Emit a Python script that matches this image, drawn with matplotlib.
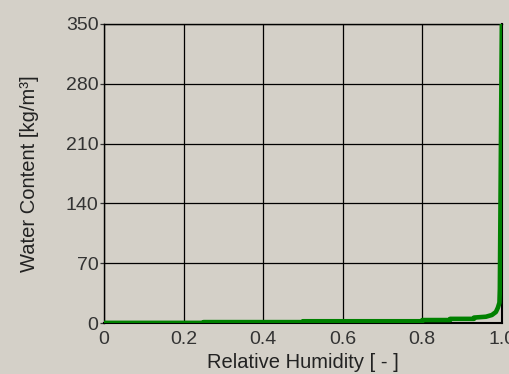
import matplotlib
matplotlib.use("Agg")
import matplotlib.pyplot as plt

rh = [0.0, 0.25, 0.25, 0.5, 0.5, 0.8, 0.8, 0.87, 0.87, 0.93, 0.93, 0.96, 0.975, 0.985, 0.99, 0.994, 0.995, 1.0]
wc = [0.3, 0.3, 1.2, 1.2, 2.2, 2.2, 3.6, 3.6, 5.0, 5.0, 6.5, 7.5, 9.5, 13.0, 18.0, 24.0, 40.0, 350.0]

xticks = [0, 0.2, 0.4, 0.6, 0.8, 1.0]
xticklabels = ["0", "0.2", "0.4", "0.6", "0.8", "1.0"]
yticks = [0, 70, 140, 210, 280, 350]
yticklabels = ["0", "70", "140", "210", "280", "350"]

bg = "#d4d0c8"
plt.rcParams['font.family'] = ['Liberation Sans', 'DejaVu Sans']

fig = plt.figure(figsize=(5.10, 3.74), dpi=100, facecolor=bg)
ax = fig.add_axes([0.204, 0.136, 0.780, 0.800], facecolor=bg)
ax.plot(rh, wc, color="#008000", lw=3.3, solid_joinstyle="round", zorder=3)
ax.set_xlim(0, 1.0)
ax.set_ylim(0, 350)
ax.set_xticks(xticks)
ax.set_xticklabels(xticklabels)
ax.set_yticks(yticks)
ax.set_yticklabels(yticklabels)
ax.grid(True, color="black", lw=0.9)
for s in ax.spines.values():
    s.set_color("black")
    s.set_linewidth(1.0)
ax.spines['bottom'].set_linewidth(1.5)
ax.spines['right'].set_linewidth(1.5)
ax.tick_params(axis='both', labelsize=14, colors="#333333", length=3, width=0.9, pad=1)
ax.tick_params(axis='x', length=0, pad=5.5)
ax.set_xlabel("Relative Humidity [ - ]", fontsize=14.5, color="#222222", labelpad=4)
ax.set_ylabel("Water Content [kg/m³]", fontsize=14.5, color="#222222", labelpad=19)
fig.savefig("out.png", dpi=100, facecolor=bg)
